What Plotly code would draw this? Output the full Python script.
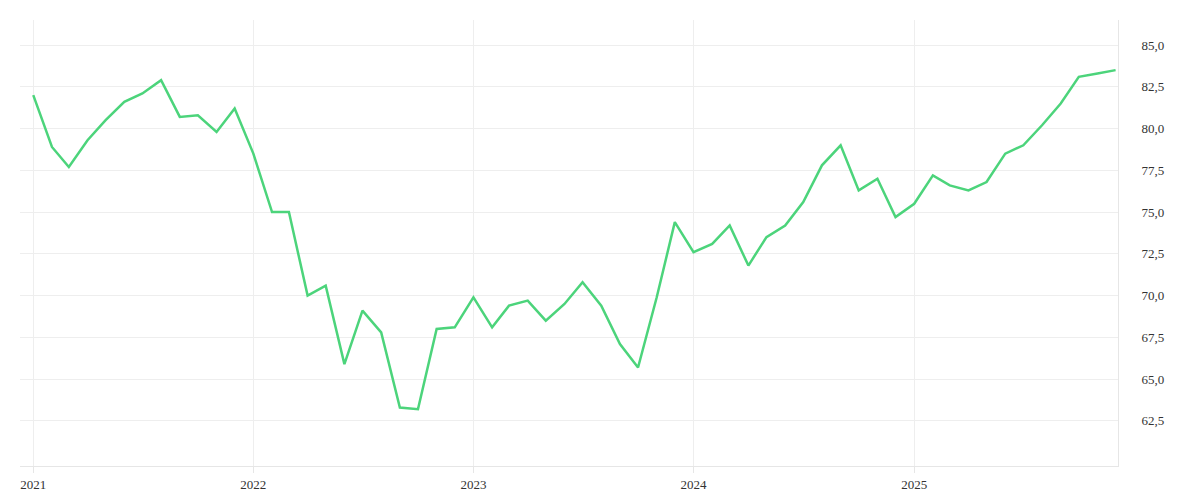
import plotly.graph_objects as go
import pandas as pd

dates = pd.date_range("2021-01-01", "2025-12-01", freq="MS")
values = [
    82.0, 78.9, 77.7, 79.3, 80.5, 81.6, 82.1, 82.9, 80.7, 80.8, 79.8, 81.2,
    78.5, 75.0, 75.0, 70.0, 70.6, 65.9, 69.1, 67.8, 63.3, 63.2, 68.0, 68.1,
    69.9, 68.1, 69.4, 69.7, 68.5, 69.5, 70.8, 69.4, 67.1, 65.7, 69.9, 74.4,
    72.6, 73.1, 74.2, 71.8, 73.5, 74.2, 75.6, 77.8, 79.0, 76.3, 77.0, 74.7,
    75.5, 77.2, 76.6, 76.3, 76.8, 78.5, 79.0, 80.2, 81.5, 83.1, 83.3, 83.5,
]
ytick_vals = [62.5, 65.0, 67.5, 70.0, 72.5, 75.0, 77.5, 80.0, 82.5, 85.0]
ytick_text = [f"{v:.1f}".replace(".", ",") for v in ytick_vals]
xtick_vals = ["2021-01-01", "2022-01-01", "2023-01-01", "2024-01-01", "2025-01-01"]
xtick_text = ["2021", "2022", "2023", "2024", "2025"]

fig = go.Figure(go.Scatter(x=dates, y=values, mode="lines",
                           line=dict(color="#4cd47b", width=2.5)))
fig.update_layout(
    width=1200, height=500, plot_bgcolor="white", paper_bgcolor="white",
    margin=dict(l=12, r=90, t=12, b=42), showlegend=False,
    font=dict(family="Liberation Serif", size=13, color="#333"),
)
fig.update_xaxes(range=["2020-12-10", "2025-12-05"], tickvals=xtick_vals, ticktext=xtick_text,
                 showgrid=True, gridcolor="#eeeeee", showline=True, linecolor="#e6e6e6",
                 ticks="outside", ticklen=6, tickcolor="#e6e6e6", zeroline=False)
fig.update_yaxes(side="right", range=[59.8, 86.5], tickvals=ytick_vals, ticktext=ytick_text,
                 showgrid=True, gridcolor="#eeeeee", showline=True, linecolor="#e6e6e6",
                 ticklabelstandoff=20, zeroline=False)
fig.write_html("out.html")
